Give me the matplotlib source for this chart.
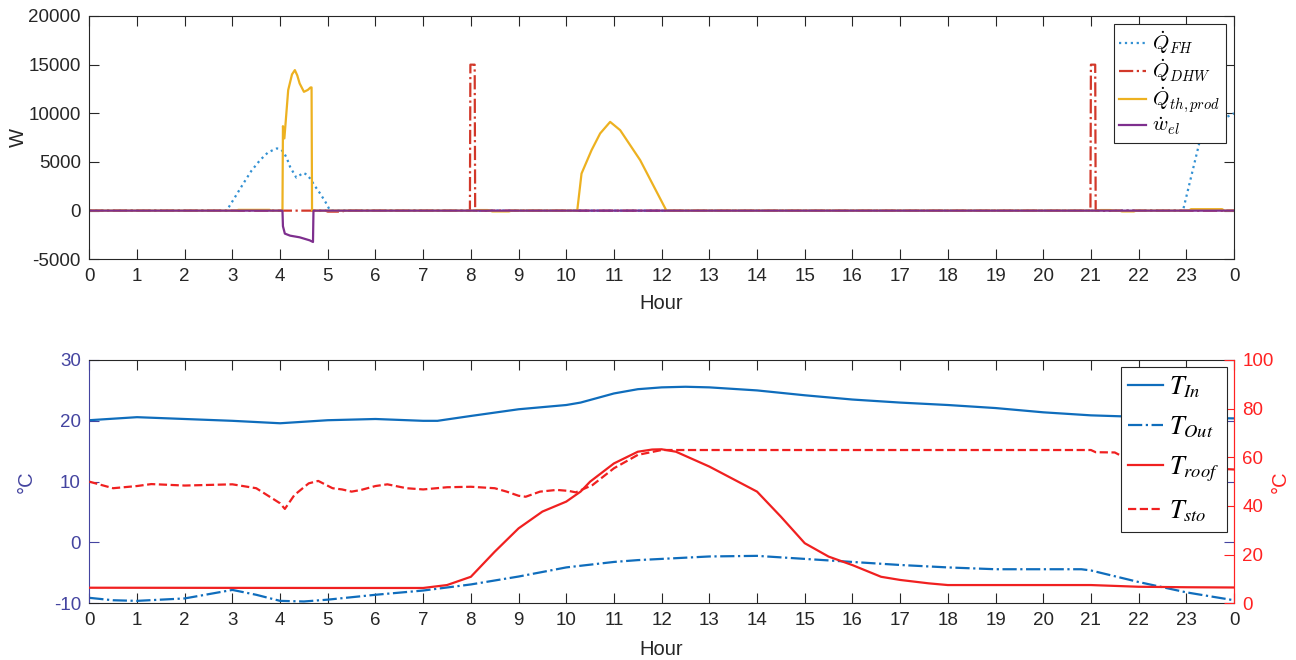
import numpy as np
import matplotlib.pyplot as plt
from matplotlib.font_manager import FontProperties

plt.rcParams['font.family'] = ['Liberation Sans', 'DejaVu Sans']
plt.rcParams['axes.unicode_minus'] = False

# ---- top panel: heat / power flows (W) ----
fh_hour = [0, 2.88, 3.05, 3.23, 3.4, 3.58, 3.75, 3.93, 4.0, 4.07, 4.14, 4.21, 4.28,
           4.34, 4.4, 4.49, 4.56, 4.63, 4.72, 4.84, 4.95, 5.05, 22.93, 23.27, 23.55, 23.8, 24]
fh_w = [0, 0, 1350, 2790, 4100, 5190, 6000, 6390, 6350, 6040, 5400, 4500, 3900,
        3400, 3600, 3880, 3700, 3300, 2600, 1760, 900, 0, 0, 6900, 8600, 9500, 10000]

dhw_hour = [0, 4.95, 5.0, 5.3, 5.35, 7.98, 7.99, 8.08, 8.09, 20.99, 21.0, 21.09, 21.1, 24]
dhw_w = [0, 0, -100, -100, 0, 0, 15000, 15000, 0, 0, 15000, 15000, 0, 0]

th_hour = [0, 3.1, 3.12, 3.78, 3.8, 4.05, 4.06, 4.09, 4.17, 4.25, 4.31, 4.36, 4.41, 4.5,
           4.58, 4.64, 4.66, 4.67, 8.1, 8.12, 8.35, 8.4, 8.45, 8.8, 8.85,
           10.23, 10.32, 10.53, 10.71, 10.92, 11.13, 11.55, 12.1,
           21.15, 21.2, 21.4, 21.45, 21.6, 21.65, 21.9, 21.95, 23.05, 23.1, 23.75, 23.8, 24]
th_w = [0, 0, 80, 80, 0, 0, 8680, 7420, 12390, 14000, 14440, 13900, 13070, 12210,
        12400, 12660, 12660, 0, 0, 60, 60, 0, -80, -80, 0,
        0, 3810, 6210, 7930, 9120, 8270, 5185, 0,
        0, 60, 60, 0, 0, -80, -80, 0, 0, 150, 150, 0, 0]

el_hour = [0, 4.05, 4.06, 4.1, 4.21, 4.41, 4.62, 4.69, 4.70, 24]
el_w = [0, 0, -1600, -2360, -2570, -2740, -3050, -3220, 0, 0]

# ---- bottom panel: temperatures (degC) ----
in_hour = [0, 1, 2, 3, 4, 5, 6, 7, 7.3, 8, 9, 10, 10.3, 11, 11.5, 12, 12.5, 13, 14, 15,
           16, 17, 18, 19, 20, 21, 21.8, 22.5, 23, 24]
t_in = [20.1, 20.6, 20.3, 20.0, 19.6, 20.1, 20.3, 20.0, 20.0, 20.8, 21.9, 22.6, 23.0, 24.5,
        25.2, 25.5, 25.6, 25.5, 25.0, 24.2, 23.5, 23.0, 22.6, 22.1, 21.4, 20.9, 20.7, 20.6, 20.5, 20.4]

out_hour = [0, 0.5, 1, 2, 2.5, 3, 3.5, 4, 4.5, 5, 6, 7, 8, 9, 10, 11, 11.5, 12, 13, 14, 15,
            16, 17, 18, 19, 20, 20.8, 21, 22, 23, 24]
t_out = [-9.1, -9.5, -9.6, -9.2, -8.5, -7.8, -8.6, -9.6, -9.7, -9.4, -8.6, -7.9, -6.9, -5.6,
         -4.1, -3.2, -2.9, -2.7, -2.3, -2.2, -2.7, -3.2, -3.7, -4.1, -4.4, -4.4, -4.4, -4.6,
         -6.5, -8.2, -9.5]

roof_hour = [0, 5, 7, 7.5, 8, 8.5, 9, 9.5, 10, 10.3, 10.5, 11, 11.5, 11.8, 12, 12.3, 13, 14,
             14.5, 15, 15.5, 16, 16.6, 17, 17.6, 18, 21, 22, 23, 24]
t_roof = [6.4, 6.3, 6.3, 7.5, 10.9, 21.2, 30.8, 37.7, 41.8, 45.9, 50.0, 57.5, 62.3, 63.2, 63.3,
          62.3, 56.2, 45.9, 35.6, 24.7, 19.2, 15.7, 10.9, 9.6, 8.2, 7.5, 7.5, 6.8, 6.6, 6.5]

sto_hour = [0, 0.5, 1, 1.3, 2, 3, 3.5, 4, 4.1, 4.3, 4.6, 4.8, 5.1, 5.3, 5.5, 5.7, 6, 6.25,
            6.65, 7, 7.5, 8, 8.5, 8.75, 9, 9.15, 9.45, 9.8, 10.05, 10.2, 10.55, 11, 11.5, 12,
            21, 21.1, 21.5, 21.8, 22.3, 23, 24]
t_sto = [50.0, 47.3, 48.2, 49.0, 48.4, 48.9, 47.3, 41.1, 38.8, 44.5, 49.3, 50.3, 47.3, 46.8,
         45.9, 46.6, 48.2, 48.9, 47.3, 46.8, 47.7, 47.9, 47.3, 45.9, 44.2, 43.8, 45.9, 46.6,
         46.2, 45.6, 48.6, 55.5, 61.0, 63.0, 63.0, 62.1, 62.0, 58.9, 57.0, 56.0, 55.0]

hour_ticks = list(range(25))
hour_labels = [str(h) for h in range(24)] + ['0']

dark = '#262626'
blue_left = '#4444A0'
red_right = '#FF2222'
tick_fs = 13.5
label_fs = 14.5

fig = plt.figure(figsize=(12.96, 6.6), dpi=100)
W, H = 1296, 660
x0, x1 = 89.3, 1234
ax1 = fig.add_axes([x0 / W, 1 - 259.3 / H, (x1 - x0) / W, 243.3 / H])
ax2 = fig.add_axes([x0 / W, 1 - 603.3 / H, (x1 - x0) / W, 243.3 / H])

# top panel
ax1.plot(fh_hour, fh_w, ':', color='#3391D3', lw=1.6, label=r'$\dot{Q}_{FH}$')
ax1.plot(dhw_hour, dhw_w, '-.', color='#D2382A', lw=1.6, label=r'$\dot{Q}_{DHW}$')
ax1.plot(th_hour, th_w, '-', color='#EDB120', lw=1.6, label=r'$\dot{Q}_{th,prod}$')
ax1.plot(el_hour, el_w, '-', color='#7E2F8E', lw=1.6, label=r'$\dot{w}_{el}$')
ax1.set_xlim(0, 24)
ax1.set_ylim(-5000, 20000)
ax1.set_yticks([-5000, 0, 5000, 10000, 15000, 20000])
ax1.set_xticks(hour_ticks)
ax1.set_xticklabels(hour_labels)
ax1.tick_params(direction='in', length=7, width=0.8, top=True, right=True,
                labelsize=tick_fs, colors=dark, pad=6)
for s in ax1.spines.values():
    s.set_color(dark)
    s.set_linewidth(0.8)
ax1.set_xlabel('Hour', fontsize=label_fs, color=dark, labelpad=7)
ax1.set_ylabel('W', fontsize=label_fs, color=dark)
ax1.yaxis.set_label_coords((28 - x0) / (x1 - x0), 0.5)
leg1 = ax1.legend(loc='upper right', prop=FontProperties(size=15, math_fontfamily='cm'),
                  handlelength=1.3, handletextpad=0.3, labelspacing=0.05,
                  borderpad=0.25, borderaxespad=0.4, fancybox=False, framealpha=1)
leg1.get_frame().set_edgecolor(dark)
leg1.get_frame().set_linewidth(0.8)

# bottom panel
ax2r = ax2.twinx()
l1, = ax2.plot(in_hour, t_in, '-', color='#0F6DBC', lw=1.6, label=r'$T_{In}$')
l2, = ax2.plot(out_hour, t_out, '-.', color='#0F6DBC', lw=1.6, label=r'$T_{Out}$')
l3, = ax2r.plot(roof_hour, t_roof, '-', color='#F02020', lw=1.6, label=r'$T_{roof}$')
l4, = ax2r.plot(sto_hour, t_sto, '--', color='#F02020', lw=1.6, label=r'$T_{sto}$')
ax2.set_xlim(0, 24)
ax2.set_ylim(-10, 30)
ax2r.set_ylim(0, 100)
ax2.set_yticks([-10, 0, 10, 20, 30])
ax2r.set_yticks([0, 20, 40, 60, 80, 100])
ax2.set_xticks(hour_ticks)
ax2.set_xticklabels(hour_labels)
ax2.tick_params(axis='x', direction='in', length=7, width=0.8, top=True,
                labelsize=tick_fs, colors=dark, pad=6)
ax2.tick_params(axis='y', direction='in', length=7, width=0.8, left=True, right=True,
                labelright=False, labelsize=tick_fs, colors=blue_left, pad=6)
ax2r.tick_params(axis='y', direction='in', length=7, width=0.8,
                 labelsize=tick_fs, colors=red_right, pad=6)
for name, s in ax2.spines.items():
    s.set_linewidth(0.8)
    s.set_color(dark)
ax2.spines['left'].set_color(blue_left)
ax2.spines['right'].set_color(red_right)
ax2r.spines['left'].set_visible(False)
ax2r.spines['top'].set_visible(False)
ax2r.spines['bottom'].set_visible(False)
ax2r.spines['right'].set_color(red_right)
ax2r.spines['right'].set_linewidth(0.8)
ax2.set_xlabel('Hour', fontsize=label_fs, color=dark, labelpad=8)
ax2.set_ylabel('°C', fontsize=label_fs, color=blue_left)
ax2.yaxis.set_label_coords((36 - x0) / (x1 - x0), 0.5)
ax2r.set_ylabel('°C', fontsize=label_fs, color=red_right, rotation=90)
ax2r.yaxis.set_label_coords((1271 - x0) / (x1 - x0), 0.5)
leg2 = ax2r.legend(handles=[l1, l2, l3, l4], loc='upper right',
                   prop=FontProperties(size=19, math_fontfamily='stix'),
                   handlelength=1.3, handletextpad=0.25, labelspacing=0.55,
                   borderpad=0.3, borderaxespad=0.25, fancybox=False, framealpha=1)
leg2.get_frame().set_edgecolor(dark)
leg2.get_frame().set_linewidth(0.8)

fig.savefig('out.png', dpi=100)
